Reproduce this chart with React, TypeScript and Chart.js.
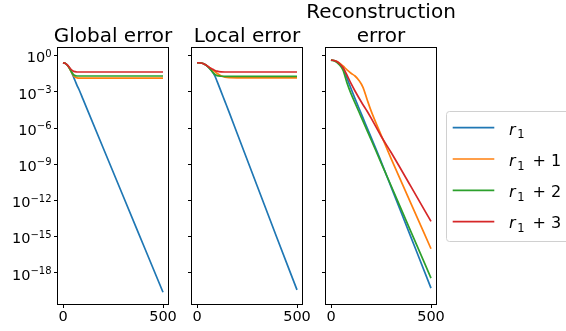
import React, { useEffect, useRef } from 'react';
import { Chart, registerables } from 'chart.js';

Chart.register(...registerables);
Chart.defaults.font.family = '"DejaVu Sans", sans-serif';

// ---------- data (y values stored as log10 exponents) ----------
const xGlobal = [0, 10, 20, 30, 40, 50, 60, 70, 80, 100, 200, 300, 400, 500];
const globalR1 = [-0.58, -0.62, -0.75, -0.95, -1.25, -1.66, -2.05, -2.45, -2.8, -3.6, -7.6, -11.6, -15.6, -19.6];
const globalR1p1 = [-0.58, -0.62, -0.75, -0.97, -1.28, -1.58, -1.77, -1.83, -1.85, -1.85, -1.85, -1.85, -1.85, -1.85];
const globalR1p2 = [-0.58, -0.62, -0.75, -0.97, -1.27, -1.52, -1.64, -1.68, -1.68, -1.68, -1.68, -1.68, -1.68, -1.68];
const globalR1p3 = [-0.58, -0.62, -0.74, -0.93, -1.12, -1.26, -1.32, -1.35, -1.35, -1.35, -1.35, -1.35, -1.35, -1.35];

const xLocal = [0, 20, 40, 60, 80, 90, 100, 120, 140, 160, 200, 300, 400, 500];
const localR1 = [-0.58, -0.6, -0.72, -0.98, -1.4, -1.7, -2.1, -2.95, -3.8, -4.65, -6.4, -10.75, -15.1, -19.4];
const localR1p1 = [-0.58, -0.6, -0.72, -0.95, -1.2, -1.33, -1.45, -1.66, -1.78, -1.82, -1.83, -1.83, -1.83, -1.83];
const localR1p2 = [-0.58, -0.6, -0.72, -1.0, -1.4, -1.56, -1.65, -1.7, -1.71, -1.71, -1.71, -1.71, -1.71, -1.71];
const localR1p3 = [-0.58, -0.6, -0.72, -0.95, -1.13, -1.22, -1.28, -1.34, -1.35, -1.35, -1.35, -1.35, -1.35, -1.35];

const xRecon = [0, 20, 40, 60, 80, 100, 120, 140, 160, 180, 200, 250, 300, 400, 500];
const reconR1 = [-0.36, -0.42, -0.62, -1.0, -1.85, -2.72, -3.55, -4.35, -5.15, -5.95, -6.75, -8.75, -10.85, -15.05, -19.25];
const reconR1p1 = [-0.36, -0.42, -0.58, -0.85, -1.17, -1.45, -1.68, -2.05, -2.62, -3.6, -4.55, -6.55, -8.5, -12.25, -15.99];
const reconR1p2 = [-0.36, -0.45, -0.72, -1.2, -2.25, -3.14, -3.9, -4.66, -5.42, -6.18, -6.94, -8.85, -10.75, -14.6, -18.42];
const reconR1p3 = [-0.36, -0.42, -0.62, -0.98, -1.6, -2.3, -2.92, -3.5, -4.06, -4.58, -5.15, -6.65, -8.0, -10.85, -13.73];

const seriesSuffix = ['', '+ 1', '+ 2', '+ 3'];
const seriesColors = ['#1f77b4', '#ff7f0e', '#2ca02c', '#d62728'];
const yTickExponents = [0, -3, -6, -9, -12, -15, -18];
const xTickValues = [0, 500];
const yRangeExp = [-20.57, 0.64];
const xRange = [-25, 525];

// ---------- plugins ----------
const framePlugin = {
  id: 'frame',
  afterDraw(chart: any) {
    const { ctx, chartArea: a } = chart;
    ctx.save();
    ctx.strokeStyle = '#000';
    ctx.lineWidth = 1;
    ctx.strokeRect(a.left - 0.5, a.top - 0.5, a.right - a.left + 1, a.bottom - a.top + 1);
    ctx.restore();
  },
};

// y tick labels "10^e" drawn with a real superscript (like matplotlib mathtext)
const powLabelPlugin = {
  id: 'powLabels',
  afterDraw(chart: any, _args: any, opts: any) {
    if (!opts.show) return;
    const { ctx, chartArea: a } = chart;
    const yScale = chart.scales.y;
    ctx.save();
    ctx.fillStyle = '#000';
    ctx.textBaseline = 'alphabetic';
    ctx.textAlign = 'right';
    yTickExponents.forEach((e) => {
      const y = yScale.getPixelForValue(Math.pow(10, e));
      const sup = String(e).replace('-', '\u2212');
      const xr = a.left - 6.5;
      ctx.font = '10px "DejaVu Sans"';
      const w = ctx.measureText(sup).width;
      ctx.fillText(sup, xr, y + 1);
      ctx.font = '14.5px "DejaVu Sans"';
      ctx.fillText('10', xr - w, y + 6.6);
    });
    ctx.restore();
  },
};

const titlePlugin = {
  id: 'mplTitle',
  afterDraw(chart: any, _args: any, opts: any) {
    const { ctx, chartArea: a } = chart;
    const lines: string[] = opts.lines || [];
    ctx.save();
    ctx.font = '20px "DejaVu Sans"';
    ctx.fillStyle = '#000';
    ctx.textAlign = 'center';
    ctx.textBaseline = 'alphabetic';
    const cx = (a.left + a.right) / 2;
    const n = lines.length;
    lines.forEach((t, i) => {
      ctx.fillText(t, cx, 41.5 - (n - 1 - i) * 23.4);
    });
    ctx.restore();
  },
};

const legendPlugin = {
  id: 'mplLegend',
  afterDraw(chart: any, _args: any, opts: any) {
    if (!opts.show) return;
    const { ctx, chartArea: a } = chart;
    const bx = a.right + 10;
    const by = 111.5;
    const bw = 140;
    const bh = 130;
    ctx.save();
    ctx.fillStyle = 'rgba(255,255,255,0.8)';
    ctx.strokeStyle = '#d0d0d0';
    ctx.lineWidth = 1;
    ctx.beginPath();
    ctx.roundRect(bx + 0.5, by, bw, bh, 3);
    ctx.fill();
    ctx.stroke();
    seriesColors.forEach((col, i) => {
      const y = 127.7 + i * 31.3;
      ctx.strokeStyle = col;
      ctx.lineWidth = 1.7;
      ctx.beginPath();
      ctx.moveTo(a.right + 16.7, y);
      ctx.lineTo(a.right + 58.3, y);
      ctx.stroke();
      ctx.fillStyle = '#000';
      ctx.textAlign = 'left';
      ctx.textBaseline = 'alphabetic';
      ctx.font = 'italic 16px "DejaVu Sans"';
      ctx.fillText('r', a.right + 73, y + 6.8);
      ctx.font = '11.5px "DejaVu Sans"';
      ctx.fillText('1', a.right + 81.3, y + 10.6);
      if (seriesSuffix[i]) {
        ctx.font = '16px "DejaVu Sans"';
        ctx.fillText(seriesSuffix[i], a.right + 96.5, y + 6.8);
      }
    });
    ctx.restore();
  },
};

type PanelDef = {
  left: number;
  width: number;
  padRight: number;
  xs: number[];
  series: number[][];
  title: string[];
  showYLabels: boolean;
  showLegend: boolean;
};

const panels: PanelDef[] = [
  { left: 0, width: 188, padRight: 20, xs: xGlobal, series: [globalR1, globalR1p1, globalR1p2, globalR1p3], title: ['Global error'], showYLabels: true, showLegend: false },
  { left: 134, width: 188, padRight: 20, xs: xLocal, series: [localR1, localR1p1, localR1p2, localR1p3], title: ['Local error'], showYLabels: false, showLegend: false },
  { left: 268, width: 298, padRight: 130, xs: xRecon, series: [reconR1, reconR1p1, reconR1p2, reconR1p3], title: ['Reconstruction', 'error'], showYLabels: false, showLegend: true },
];

function Panel({ def }: { def: PanelDef }) {
  const ref = useRef<HTMLCanvasElement>(null);
  useEffect(() => {
    if (!ref.current) return;
    const chart = new Chart(ref.current, {
      type: 'line',
      data: {
        datasets: def.series.map((ys, si) => ({
          label: 'r1 ' + seriesSuffix[si],
          data: def.xs.map((x, i) => ({ x, y: Math.pow(10, ys[i]) })),
          borderColor: seriesColors[si],
          backgroundColor: seriesColors[si],
          borderWidth: 1.7,
          pointRadius: 0,
          fill: false,
          cubicInterpolationMode: 'monotone',
          order: 3 - si,
        })),
      },
      options: {
        responsive: false,
        animation: false,
        devicePixelRatio: 1,
        layout: { padding: { top: 48, right: def.padRight, left: 0, bottom: 0 } },
        plugins: {
          legend: { display: false },
          tooltip: { enabled: false },
          title: { display: false },
          mplTitle: { lines: def.title },
          mplLegend: { show: def.showLegend },
          powLabels: { show: def.showYLabels },
        } as any,
        scales: {
          x: {
            type: 'linear',
            min: xRange[0],
            max: xRange[1],
            afterBuildTicks: (s: any) => {
              s.ticks = xTickValues.map((v) => ({ value: v }));
            },
            afterFit: (s: any) => {
              s.height = 27;
            },
            border: { display: false },
            grid: { drawOnChartArea: false, drawTicks: true, tickLength: 4, color: '#000', lineWidth: 1 },
            ticks: { color: '#000', font: { size: 14.5 }, padding: 1, maxRotation: 0, autoSkip: false, callback: (v: any) => String(v) },
          },
          y: {
            type: 'logarithmic',
            min: Math.pow(10, yRangeExp[0]),
            max: Math.pow(10, yRangeExp[1]),
            afterBuildTicks: (s: any) => {
              s.ticks = yTickExponents.map((e) => ({ value: Math.pow(10, e) }));
            },
            afterFit: (s: any) => {
              s.width = 58;
            },
            border: { display: false },
            grid: { drawOnChartArea: false, drawTicks: true, tickLength: 4, color: '#000', lineWidth: 1 },
            ticks: { display: false },
          },
        },
      } as any,
      plugins: [framePlugin, titlePlugin, legendPlugin, powLabelPlugin],
    });
    return () => chart.destroy();
  }, []);
  return (
    <canvas
      ref={ref}
      width={def.width}
      height={331}
      style={{ position: 'absolute', left: def.left, top: 0, width: def.width, height: 331 }}
    />
  );
}

export default function App() {
  return (
    <div style={{ position: 'fixed', left: 0, top: 0, width: 566, height: 331, background: '#fff', overflow: 'hidden' }}>
      {panels.map((p, i) => (
        <Panel key={i} def={p} />
      ))}
    </div>
  );
}
